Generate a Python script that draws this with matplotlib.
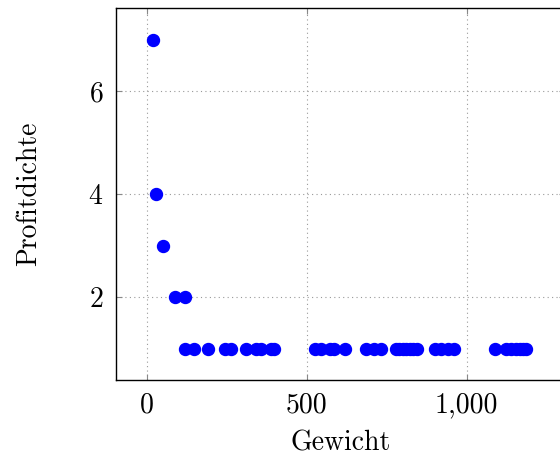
import matplotlib
matplotlib.use('Agg')
import matplotlib.pyplot as plt
from matplotlib.ticker import FuncFormatter

# Gewicht / Profitdichte
gewicht = [20, 30, 50, 88, 120,
           121, 147, 191, 244, 265, 309, 343, 358, 390, 397,
           525, 546, 572, 587, 619, 687, 712, 733, 778, 790, 800, 811, 822, 833, 844,
           900, 921, 941, 962,
           1088, 1124, 1140, 1155, 1166, 1177, 1187]
profitdichte = [7, 4, 3, 2, 2,
                1, 1, 1, 1, 1, 1, 1, 1, 1, 1,
                1, 1, 1, 1, 1, 1, 1, 1, 1, 1, 1, 1, 1, 1, 1,
                1, 1, 1, 1,
                1, 1, 1, 1, 1, 1, 1]
xticks = [0, 500, 1000]
yticks = [2, 4, 6]

plt.rcParams['font.family'] = 'serif'
plt.rcParams['font.serif'] = ['cmr10', 'DejaVu Serif']
plt.rcParams['axes.formatter.use_mathtext'] = True

fig = plt.figure(figsize=(5.6, 4.63), dpi=100)
ax = fig.add_axes([0.2066, 0.1793, 0.802, 0.803])
ax.plot(gewicht, profitdichte, 'o', color='#0000ff', markersize=8.6, zorder=3, clip_on=False)

ax.set_xlim(-97, 1307)
ax.set_ylim(0.39, 7.61)
ax.set_xticks(xticks)
ax.set_yticks(yticks)
ax.xaxis.set_major_formatter(FuncFormatter(lambda v, p: '{:,}'.format(int(v))))
ax.grid(True, linestyle=(0, (1, 3)), color='#999999', linewidth=0.8)
ax.tick_params(direction='in', length=4, color='#888888', labelsize=20,
               top=True, right=True, pad=9)
ax.spines['right'].set_visible(False)
for s in ax.spines.values():
    s.set_linewidth(1.0)
ax.set_xlabel('Gewicht', fontsize=20, labelpad=8)
ax.set_ylabel('Profitdichte', fontsize=20, labelpad=33)

fig.savefig('out.png', dpi=100)
